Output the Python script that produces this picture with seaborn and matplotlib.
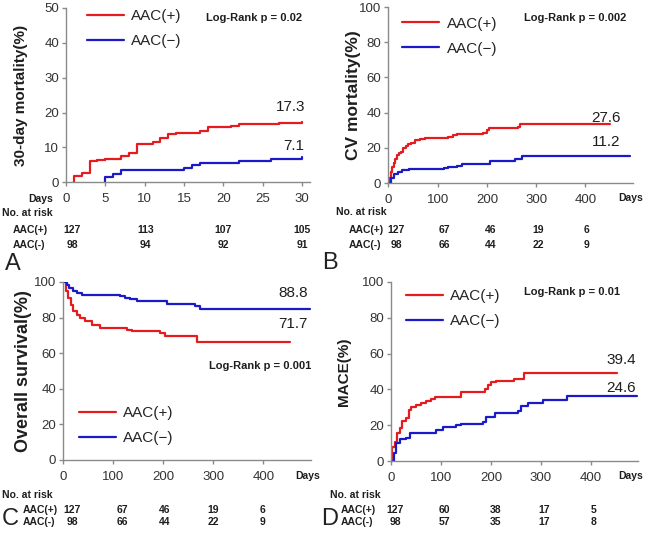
import numpy as np
import pandas as pd
import matplotlib
matplotlib.use("Agg")
import matplotlib.pyplot as plt
import matplotlib.transforms as mtransforms
import seaborn as sns

sns.set_theme(style="ticks")
plt.rcParams['font.family'] = ['Liberation Sans', 'DejaVu Sans']

# group names
grp_pos = "AAC(+)"
grp_neg = "AAC(\u2212)"
colors = {grp_pos: "#e41c1f", grp_neg: "#1a1ac8"}

# A: 30-day mortality (%)
a_days_pos = [1, 1, 2, 3, 4, 5, 7, 8, 9, 11, 12, 13, 14, 17, 18, 21, 22, 27, 30]
a_pct_pos = [0, 1.9, 2.8, 6.0, 6.3, 6.7, 7.5, 8.3, 11.0, 11.5, 12.6, 13.8, 14.2, 14.8, 15.8, 16.1, 16.6, 17.0, 17.4]
a_days_neg = [5, 5, 6, 7, 15, 16, 17, 22, 26, 30]
a_pct_neg = [0, 1.4, 2.5, 3.6, 4.1, 5.1, 5.6, 6.1, 6.6, 7.2]

# B: CV mortality (%)
b_days_pos = [0, 2, 5, 8, 11, 14, 17, 21, 25, 30, 35, 40, 46, 55, 65, 75, 122, 132, 140, 193, 200, 205, 264, 268, 450]
b_pct_pos = [0, 3, 6.4, 9, 11.2, 13.5, 15.9, 16.8, 17.8, 19.7, 21.2, 22, 22.5, 24.4, 24.9, 25.4, 26.3, 27.2, 27.7, 28.2, 30, 31.1, 32, 33.5, 33.5]
b_days_neg = [0, 5, 12, 20, 27, 41, 112, 122, 139, 149, 206, 257, 271, 491]
b_pct_neg = [0, 2.7, 4.9, 6.4, 7.4, 7.7, 8.3, 9.3, 9.6, 10.8, 12.5, 13.6, 15.5, 15.5]

# C: overall survival (%)
c_days_pos = [0, 5, 10, 15, 20, 27, 33, 43, 57, 73, 127, 137, 193, 203, 267, 453]
c_pct_pos = [100, 94.8, 91.0, 87.3, 83.5, 81.6, 79.8, 77.9, 76.0, 74.2, 73.2, 72.3, 71.3, 69.5, 66.5, 66.5]
c_days_neg = [0, 7, 12, 19, 27, 37, 113, 123, 133, 148, 207, 263, 273, 493]
c_pct_neg = [100, 98.5, 96.7, 95.2, 93.8, 92.9, 92.3, 91.0, 90.4, 89.5, 87.8, 86.3, 84.8, 84.8]

# D: MACE (%)
d_days_pos = [0, 2, 7, 12, 17, 21, 30, 35, 40, 50, 60, 70, 80, 87, 139, 187, 193, 200, 210, 245, 265, 453]
d_pct_pos = [0, 8, 10.8, 15.4, 18.2, 22.5, 23.8, 28.5, 29.9, 31.3, 32.2, 33.5, 34.6, 35.9, 38.7, 40.0, 42.4, 43.9, 44.7, 45.8, 49.0, 49.0]
d_days_neg = [0, 5, 10, 17, 30, 37, 90, 103, 130, 140, 183, 190, 207, 253, 260, 273, 305, 353, 493]
d_pct_neg = [0, 4.3, 9.9, 12.1, 12.7, 15.9, 17.3, 18.8, 20.1, 20.7, 22.0, 24.8, 27.0, 27.9, 30.7, 32.6, 34.1, 36.3, 36.3]

# numbers at risk
risk_days_short = [0, 10, 20, 30]
risk_days_long = [0, 100, 200, 300, 400]
a_risk_pos = [127, 113, 107, 105]
a_risk_neg = [98, 94, 92, 91]
b_risk_pos = [127, 67, 46, 19, 6]
b_risk_neg = [98, 66, 44, 22, 9]
c_risk_pos = [127, 67, 46, 19, 6]
c_risk_neg = [98, 66, 44, 22, 9]
d_risk_pos = [127, 60, 38, 17, 5]
d_risk_neg = [98, 57, 35, 17, 8]

W, H = 646, 534
fig = plt.figure(figsize=(W / 100, H / 100), dpi=100)


def fx(px):
    return px / W


def fy(py):
    return 1 - py / H


panels = [
    dict(letter="A", rect=(66, 182.3, 244, 174.3), xlim=31, ylim=50, xstep=5, ystep=10,
         pos=(a_days_pos, a_pct_pos), neg=(a_days_neg, a_pct_neg),
         ylabel="30-day mortality(%)", ylab_size=11, ylab_x=-0.156,
         leg=(0.086, 0.995), logrank=("Log-Rank p = 0.02", 0.967, 0.943),
         vals=(("17.3", 0.98, 0.432), ("7.1", 0.975, 0.208)),
         risk_days=risk_days_short, risk=(a_risk_pos, a_risk_neg), shift=[6, 1, 0, 0],
         rows=((2, 213), (13, 230), (13, 245)), days_lab=(53, 199), let_xy=(5, 264)),
    dict(letter="B", rect=(388.3, 183, 245, 176), xlim=497, ylim=100, xstep=100, ystep=20,
         pos=(b_days_pos, b_pct_pos), neg=(b_days_neg, b_pct_neg),
         ylabel="CV mortality(%)", ylab_size=12.5, ylab_x=-0.111,
         leg=(0.057, 0.945), logrank=("Log-Rank p = 0.002", 0.971, 0.9375),
         vals=(("27.6", 0.947, 0.369), ("11.2", 0.947, 0.233)),
         risk_days=risk_days_long, risk=(b_risk_pos, b_risk_neg), shift=[8, 7, 4, 2, 1],
         rows=((336, 212), (349, 230), (349, 245)), days_lab=(643, 198), let_xy=(322, 263)),
    dict(letter="C", rect=(63.3, 460, 248, 178), xlim=496, ylim=100, xstep=100, ystep=20,
         pos=(c_days_pos, c_pct_pos), neg=(c_days_neg, c_pct_neg),
         ylabel="Overall survival(%)", ylab_size=13, ylab_x=-0.126,
         leg=(0.063, 0.301), logrank=("Log-Rank p = 0.001", 0.999, 0.528),
         vals=(("88.8", 0.987, 0.938), ("71.7", 0.987, 0.764)),
         risk_days=risk_days_long, risk=(c_risk_pos, c_risk_neg), shift=[9, 9, 1, 0, -1],
         rows=((2, 495), (23, 510), (23, 522)), days_lab=(320, 476), let_xy=(2, 519)),
    dict(letter="D", rect=(391.3, 461, 247, 179), xlim=495, ylim=100, xstep=100, ystep=20,
         pos=(d_days_pos, d_pct_pos), neg=(d_days_neg, d_pct_neg),
         ylabel="MACE(%)", ylab_size=11, ylab_x=-0.163,
         leg=(0.06, 0.96), logrank=("Log-Rank p = 0.01", 0.926, 0.944),
         vals=(("39.4", 0.991, 0.564), ("24.6", 0.991, 0.408)),
         risk_days=risk_days_long, risk=(d_risk_pos, d_risk_neg), shift=[4, 3, 4, 3, 3],
         rows=((330, 495), (341, 510), (341, 522)), days_lab=(643, 476), let_xy=(321, 519)),
]

spine_col = "#8a8a8a"
txt_col = "#1e1e1e"

for p in panels:
    left, bottom, width, height = p["rect"]
    ax = fig.add_axes([fx(left), fy(bottom), width / W, height / H])

    df = pd.concat([
        pd.DataFrame({"day": p["pos"][0], "pct": p["pos"][1], "group": grp_pos}),
        pd.DataFrame({"day": p["neg"][0], "pct": p["neg"][1], "group": grp_neg}),
    ], ignore_index=True)
    sns.lineplot(data=df, x="day", y="pct", hue="group", hue_order=[grp_pos, grp_neg],
                 palette=colors, drawstyle="steps-post", sort=False, estimator=None,
                 linewidth=1.6, legend=False, ax=ax)

    ax.set_xlim(0, p["xlim"])
    ax.set_ylim(0, p["ylim"])
    ax.set_xticks(np.arange(0, p["xlim"], p["xstep"]))
    ax.set_yticks(np.arange(0, p["ylim"] + 1, p["ystep"]))
    ax.set_xlabel("")
    ax.set_ylabel(p["ylabel"], fontsize=p["ylab_size"], fontweight="bold", color=txt_col)
    ax.yaxis.set_label_coords(p["ylab_x"], 0.5)
    sns.despine(ax=ax)
    for s in ["left", "bottom"]:
        ax.spines[s].set_color(spine_col)
        ax.spines[s].set_linewidth(1.0)
    ax.tick_params(axis="both", colors=spine_col, labelcolor="#333333", labelsize=9.5,
                   length=3, width=1.0)
    ax.tick_params(axis="x", pad=5)
    ax.tick_params(axis="y", pad=2)

    lines = ax.get_lines()[:2]
    ax.legend(lines, [grp_pos, grp_neg], loc="upper left", bbox_to_anchor=p["leg"],
              frameon=False, fontsize=11, handlelength=2.4, handletextpad=0.5,
              labelspacing=0.72, borderaxespad=0, borderpad=0)

    lr, lx, ly = p["logrank"]
    ax.text(lx, ly, lr, transform=ax.transAxes, ha="right", va="center",
            fontsize=8, fontweight="bold", color=txt_col)
    for s, vx, vy in p["vals"]:
        ax.text(vx, vy, s, transform=ax.transAxes, ha="right", va="center",
                fontsize=11, color=txt_col)

    # risk table
    (nx, ny), (px_, py_), (mx, my) = p["rows"]
    fig.text(fx(nx), fy(ny), "No. at risk", ha="left", va="center", fontsize=7.5,
             fontweight="bold", color=txt_col)
    fig.text(fx(px_), fy(py_), "AAC(+)", ha="left", va="center", fontsize=7.5,
             fontweight="bold", color=txt_col)
    fig.text(fx(mx), fy(my), "AAC(-)", ha="left", va="center", fontsize=7.5,
             fontweight="bold", color=txt_col)
    base = mtransforms.blended_transform_factory(ax.transData, fig.transFigure)
    for d, n_pos, n_neg, sh in zip(p["risk_days"], p["risk"][0], p["risk"][1], p["shift"]):
        trans = base + mtransforms.ScaledTranslation(sh / 100, 0, fig.dpi_scale_trans)
        ax.text(d, fy(py_), str(n_pos), transform=trans, ha="center", va="center",
                fontsize=7.5, fontweight="bold", color=txt_col, clip_on=False)
        ax.text(d, fy(my), str(n_neg), transform=trans, ha="center", va="center",
                fontsize=7.5, fontweight="bold", color=txt_col, clip_on=False)
    dx, dy = p["days_lab"]
    fig.text(fx(dx), fy(dy), "Days", ha="right", va="center", fontsize=7.5,
             fontweight="bold", color=txt_col)

    lx_, ly_ = p["let_xy"]
    fig.text(fx(lx_), fy(ly_), p["letter"], ha="left", va="center", fontsize=17,
             color="#222222")

fig.savefig("out.png", dpi=100)
